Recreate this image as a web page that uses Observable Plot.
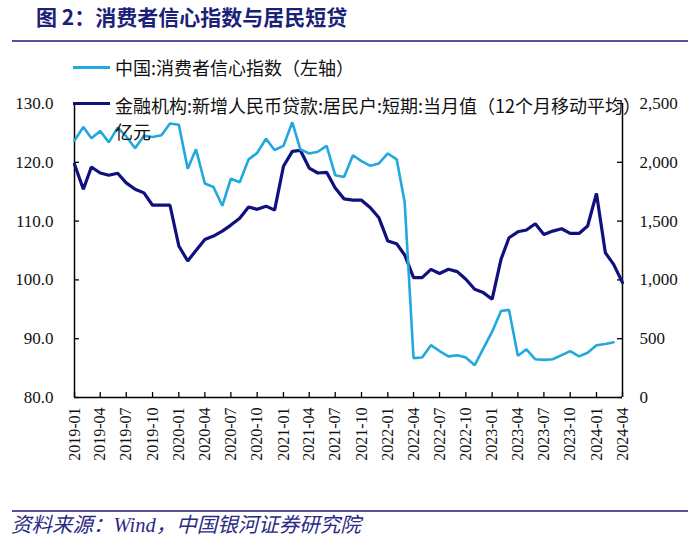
<!DOCTYPE html>
<html><head><meta charset="utf-8">
<script src="https://cdn.jsdelivr.net/npm/d3@7"></script>
<script src="https://cdn.jsdelivr.net/npm/@observablehq/plot@0.6"></script>
<style>
body{margin:0;background:#fff;}
#wrap{position:relative;width:700px;height:556px;overflow:hidden;font-family:"Noto Sans CJK SC",sans-serif;}
.abs{position:absolute;white-space:nowrap;}
.rule{position:absolute;left:12px;width:676px;height:1.5px;background:#55509a;}
#chart{position:absolute;left:0;top:0;}
.leg{position:absolute;z-index:2;font-size:18px;line-height:20px;color:#111;white-space:nowrap;}
.sw{position:absolute;z-index:2;height:3px;}
#chart text{font-family:"Liberation Serif","Times New Roman",serif;}
</style></head><body>
<div id="wrap">
  <div class="abs" id="title" style="left:36px;top:4px;font-size:21px;line-height:24px;font-weight:bold;color:#1c2178;">图 2：消费者信心指数与居民短贷</div>
  <div class="rule" style="top:40px"></div>
  <div id="chart"></div>
  <div class="sw" style="left:73px;top:66px;width:37px;background:#21a8dd;"></div>
  <div class="leg" style="left:115px;top:57px;">中国:消费者信心指数（左轴）</div>
  <div class="sw" style="left:73px;top:102px;width:37px;background:#10107f;"></div>
  <div class="leg" style="left:115px;top:92px;line-height:26px;">金融机构:新增人民币贷款:居民户:短期:当月值（12个月移动平均）<br>亿元</div>
  <div class="rule" style="top:510px"></div>
  <div class="abs" id="caption" style="left:11px;top:513px;font-size:20.5px;line-height:24px;font-style:italic;color:#2a2a85;font-family:'Liberation Serif','Noto Sans CJK SC',serif;">资料来源：Wind，中国银河证券研究院</div>
</div>
<script>
// Monthly series starting 2019-01
const startMonth = "2019-01";
const seriesNames = ["中国:消费者信心指数（左轴）", "金融机构:新增人民币贷款:居民户:短期:当月值（12个月移动平均）亿元"];
// Consumer confidence index (left axis), 2019-01 .. 2024-03
const confidence = [
  123.7,126.0,124.1,125.3,123.4,125.9,124.4,122.4,124.5,124.3,124.6,126.6,
  126.4,118.9,122.2,116.4,115.8,112.6,117.2,116.6,120.5,121.6,124.0,122.1,
  122.8,126.8,122.2,121.5,121.8,122.8,117.8,117.5,121.2,120.2,119.4,119.8,
  121.5,120.5,113.2,86.7,86.8,88.9,87.9,87.0,87.2,86.8,85.5,88.3,
  91.2,94.7,94.9,87.1,88.2,86.5,86.4,86.5,87.2,87.9,87.0,87.6,
  88.9,89.1,89.4
];
// Household short-term new loans, 12m moving average (right axis, 亿元), 2019-01 .. 2024-04
const loans = [
  1983,1771,1960,1909,1890,1907,1825,1771,1740,1635,1635,1635,
  1288,1161,1250,1343,1373,1415,1466,1525,1620,1600,1627,1593,
  1966,2093,2102,1951,1909,1915,1782,1689,1678,1678,1613,1528,
  1330,1307,1212,1019,1019,1090,1054,1090,1070,1006,921,892,
  836,1175,1358,1409,1424,1477,1386,1415,1435,1395,1395,1458,
  1735,1231,1132,977
];
const xTickLabels = ["2019-01","2019-04","2019-07","2019-10","2020-01","2020-04","2020-07","2020-10",
  "2021-01","2021-04","2021-07","2021-10","2022-01","2022-04","2022-07","2022-10",
  "2023-01","2023-04","2023-07","2023-10","2024-01","2024-04"];
const leftTicks = [80,90,100,110,120,130];
const rightTicks = [0,500,1000,1500,2000,2500];

const parseM = d3.utcParse("%Y-%m");
const start = parseM(startMonth);
const monthAt = i => d3.utcMonth.offset(start, i);
const nMonths = loans.length;
const xDomain = [monthAt(0), monthAt(nMonths - 1)];
const leftMin = 80, leftMax = 130, rightMax = 2500;
const toLeft = v => leftMin + v * (leftMax - leftMin) / rightMax;
const fromLeft = y => (y - leftMin) * rightMax / (leftMax - leftMin);

const confData = confidence.map((v, i) => ({date: monthAt(i), v}));
const loanData = loans.map((v, i) => ({date: monthAt(i), v: toLeft(v)}));
const tickDates = xTickLabels.map(parseM);
const labelByTime = new Map(tickDates.map((d, i) => [+d, xTickLabels[i]]));

const W = 700, H = 556, mT = 103, mB = 159, mL = 74, mR = 78;
const fw = W - mL - mR, fh = H - mT - mB, tk = 5;
const serif = "'Liberation Serif', 'Times New Roman', serif";

const chart = Plot.plot({
  width: W, height: H,
  marginTop: mT, marginBottom: mB, marginLeft: mL, marginRight: mR,
  x: {type: "utc", domain: xDomain},
  y: {domain: [leftMin, leftMax]},
  style: {fontFamily: serif, background: "transparent", color: "#111"},
  marks: [
    Plot.axisX(tickDates, {tickSize: 0, tickRotate: -90, tickPadding: 10, fontSize: 16, fontFamily: serif,
      tickFormat: d => labelByTime.get(+d), label: null}),
    Plot.axisY(leftTicks, {anchor: "left", tickSize: 0, tickPadding: 21, fontSize: 17, fontFamily: serif,
      tickFormat: d => d.toFixed(1), label: null}),
    Plot.axisY(rightTicks.map(toLeft), {anchor: "right", tickSize: 0, tickPadding: 17, fontSize: 17, fontFamily: serif,
      tickFormat: d => d3.format(",")(Math.round(fromLeft(d))), label: null}),
    Plot.tickX(tickDates, {x: d => d, insetTop: fh - tk, stroke: "#000", strokeWidth: 1.3}),
    Plot.tickY(leftTicks, {y: d => d, insetRight: fw - tk, stroke: "#000", strokeWidth: 1.3}),
    Plot.tickY(rightTicks.map(toLeft), {y: d => d, insetLeft: fw - tk, stroke: "#000", strokeWidth: 1.3}),
    Plot.ruleX([xDomain[0]], {stroke: "#000", strokeWidth: 1.5}),
    Plot.ruleX([xDomain[1]], {stroke: "#000", strokeWidth: 1.5}),
    Plot.ruleY([leftMin], {stroke: "#000", strokeWidth: 1.5}),
    Plot.line(loanData, {x: "date", y: "v", stroke: "#10107f", strokeWidth: 3.2, strokeLinejoin: "miter"}),
    Plot.line(confData, {x: "date", y: "v", stroke: "#21a8dd", strokeWidth: 2.6, strokeLinejoin: "miter"})
  ]
});
document.getElementById("chart").appendChild(chart);
</script>
</body></html>
